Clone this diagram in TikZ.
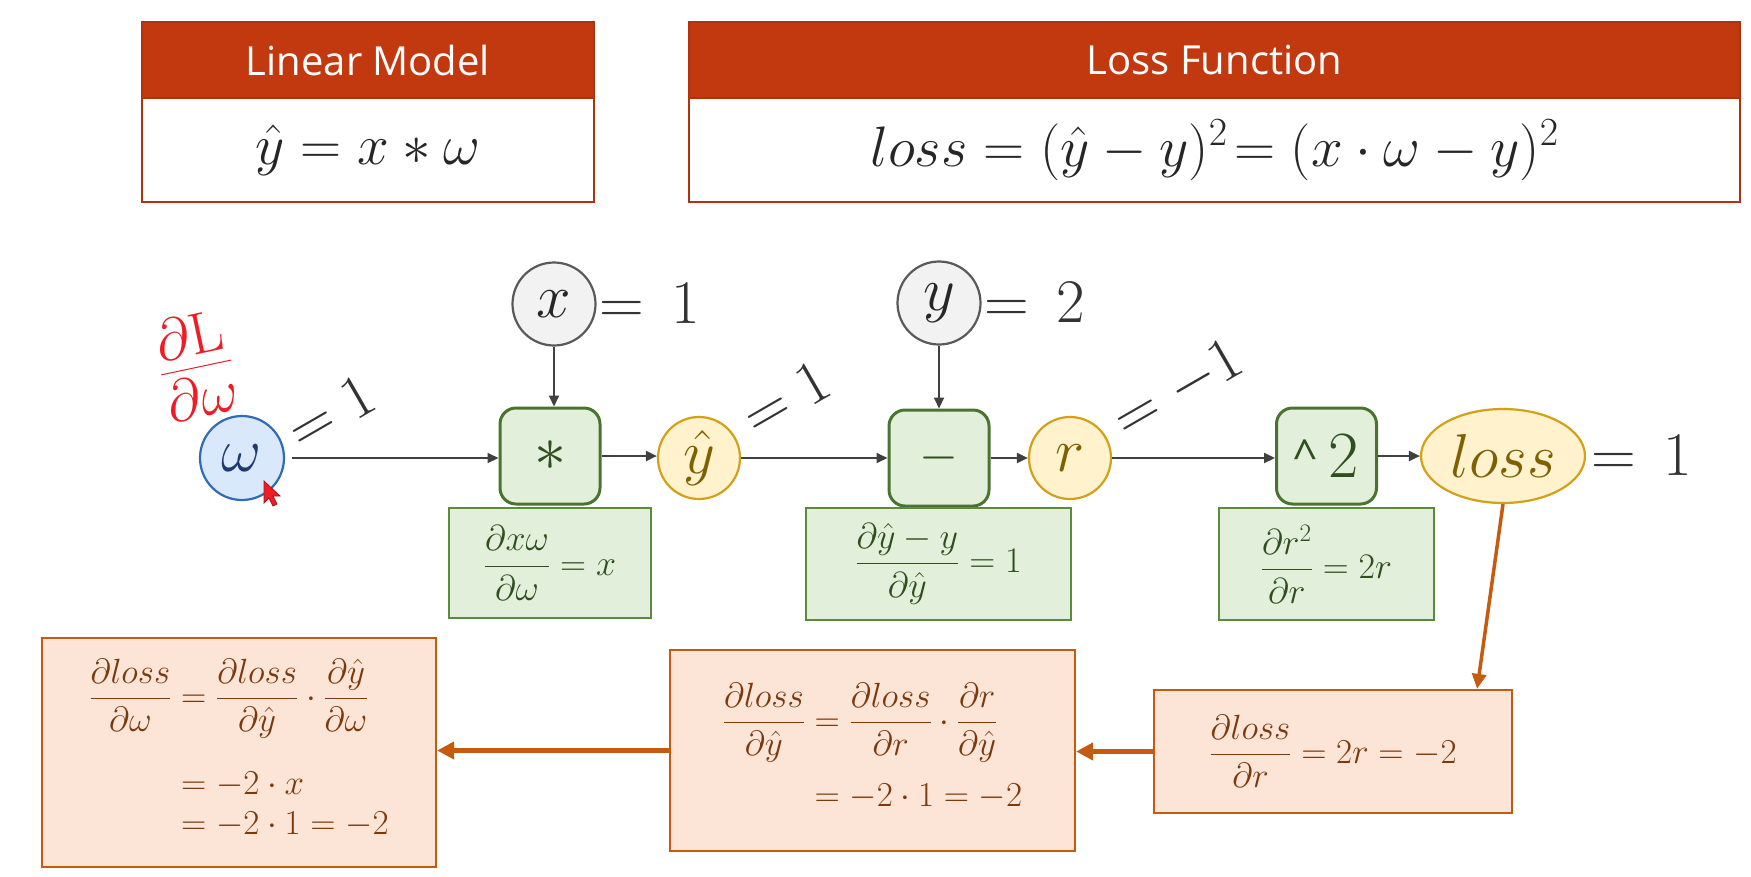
\RequirePackage{fix-cm}
\documentclass[tikz,border=0pt]{standalone}
\usepackage{amsmath}
\usepackage{fontspec}
\newfontfamily\hdrfont{Open Sans}
\usetikzlibrary{shapes.geometric,arrows.meta,calc}
\newcommand\setfs[1]{\fontsize{#1}{#1}\selectfont}
\definecolor{hdrred}{HTML}{C3390F}
\definecolor{hdrborder}{HTML}{B0330E}
\definecolor{lineg}{HTML}{404040}
\definecolor{greyfill}{HTML}{F2F2F2}
\definecolor{greyline}{HTML}{595959}
\definecolor{bluefill}{HTML}{DAE8FC}
\definecolor{blueline}{HTML}{2E6CB5}
\definecolor{bluetext}{HTML}{1F3B6E}
\definecolor{yelfill}{HTML}{FFF2CC}
\definecolor{yelline}{HTML}{D4A017}
\definecolor{yeltext}{HTML}{7F6000}
\definecolor{grnfill}{HTML}{E2EFDA}
\definecolor{grnline}{HTML}{4A7330}
\definecolor{grnline2}{HTML}{5B8C3E}
\definecolor{grntext}{HTML}{2F4F1F}
\definecolor{orgfill}{HTML}{FCE4D6}
\definecolor{orgline}{HTML}{C55A11}
\definecolor{orgtext}{HTML}{7B3A0E}
\definecolor{lbltext}{HTML}{333333}
\definecolor{annred}{HTML}{EE1C25}
\begin{document}
\begin{tikzpicture}[x=1pt,y=-1pt,
  hdrbox/.style={rectangle, fill=hdrred, draw=hdrborder, line width=2.5pt, inner sep=0pt, text=white, font=\hdrfont\setfs{40}},
  hdrbody/.style={rectangle, fill=white, draw=hdrborder, line width=2.5pt, inner sep=0pt, text=black!85},
  inpt/.style={circle, draw=greyline, fill=greyfill, line width=2.2pt, minimum size=83pt, inner sep=0pt, text=black!85, font=\setfs{62}},
  wnode/.style={circle, draw=blueline, fill=bluefill, line width=2.2pt, minimum size=84pt, inner sep=0pt, text=bluetext, font=\setfs{62}},
  ynode/.style={circle, draw=yelline, fill=yelfill, line width=2.2pt, minimum size=82pt, inner sep=0pt, text=yeltext, font=\setfs{62}},
  lossnode/.style={ellipse, draw=yelline, fill=yelfill, line width=2.2pt, minimum width=164pt, minimum height=94pt, inner sep=0pt, text=yeltext, font=\setfs{62}},
  opbox/.style={rectangle, rounded corners=16pt, draw=grnline, fill=grnfill, line width=3pt, minimum width=100pt, minimum height=96pt, inner sep=0pt, text=grntext},
  dbox/.style={rectangle, draw=grnline2, fill=grnfill, line width=2pt, inner sep=0pt, text=grntext, font=\setfs{36}},
  obox/.style={rectangle, draw=orgline, fill=orgfill, line width=2.2pt, inner sep=0pt, text=orgtext},
  lbl/.style={inner sep=0pt, text=lbltext, font=\setfs{62}},
  rlbl/.style={inner sep=0pt, text=lbltext, font=\setfs{62}},
  conn/.style={draw=lineg, line width=2pt, -{Triangle[length=11pt,width=10pt]}},
  back/.style={draw=orgline, line width=4.5pt, -{Triangle[length=17pt,width=17pt]}},
  backthin/.style={draw=orgline, line width=3.5pt, -{Triangle[length=15pt,width=14pt]}}
]
\useasboundingbox (0,0) rectangle (1751,876);
\fill[white] (0,0) rectangle (1751,876);

% top boxes
\node[hdrbody, minimum width=452pt, minimum height=104pt, font=\setfs{57}] (lmb) at (368,150) {$\hat{y}=x\ast\omega$};
\node[hdrbox, minimum width=452pt, minimum height=76pt] (lmh) at (368,60) {Linear Model};
\node[hdrbody, minimum width=1051pt, minimum height=104pt, font=\setfs{57}] (lfb) at (1214.5,150) {$loss=(\hat{y}-y)^2\!=(x\cdot\omega-y)^2$\hspace{30pt}};
\node[hdrbox, minimum width=1051pt, minimum height=76pt] (lfh) at (1214.5,60) {Loss Function};

% graph nodes
\node[wnode] (w) at (242,458) {$\omega$};
\node[inpt] (xin) at (554,304) {$x$};
\node[opbox, font=\setfs{64}] (mul) at (550,456) {$\ast$};
\node[ynode] (yhat) at (699,458) {$\hat{y}$};
\node[opbox, font=\setfs{50}] (minus) at (939,458) {$-$};
\node[inpt] (yin) at (939,303) {$y$};
\node[ynode] (rr) at (1070,458) {$r$};
\node[opbox, font=\setfs{66}] (sq) at (1326.5,456) {\raisebox{6pt}{\hdrfont\fontsize{44}{44}\selectfont\symbol{"5E}}\,2};
\node[lossnode] (loss) at (1503,456) {$loss$};

% labels
\node[lbl, anchor=west] (xl) at (599,304) {$=\,1$};
\node[lbl, anchor=west] (yl) at (984,303) {$=\,2$};
\node[lbl, anchor=west] (ll) at (1591,456) {$=\,1$};
\node[rlbl, rotate=30] (wl) at (331,412) {$=1$};
\node[rlbl, rotate=30] (yhl) at (786,398) {$=1$};
\node[rlbl, rotate=30] (rl) at (1178,390) {$=-1$};

% annotation
\node[text=annred, font=\setfs{84}, rotate=12, inner sep=0pt] (ann) at (196,366) {$\frac{\partial\mathrm{L}}{\partial\omega}$};
\fill[annred, draw=annred!70!black, line width=0.8pt] (264,481) -- (264,503) -- (269,498) -- (273,506) -- (277,504) -- (273,496) -- (280,496) -- cycle;

% derivative boxes
\node[dbox, minimum width=202pt, minimum height=110pt] (d1) at (550,563) {$\dfrac{\partial x\omega}{\partial\omega}=x$};
\node[dbox, minimum width=265pt, minimum height=112pt] (d2) at (938.5,564) {$\dfrac{\partial\hat{y}-y}{\partial\hat{y}}=1$};
\node[dbox, minimum width=215pt, minimum height=112pt] (d3) at (1326.5,564) {$\dfrac{\partial r^2}{\partial r}=2r$};

% connectors
\draw[conn, shorten <=7pt] (w.east) -- (w.east -| mul.west);
\draw[conn] (xin.south) -- (xin.south |- mul.north);
\draw[conn] (mul.east) -- (mul.east -| yhat.west);
\draw[conn] (yhat.east) -- (yhat.east -| minus.west);
\draw[conn] (yin.south) -- (yin.south |- minus.north);
\draw[conn] (minus.east) -- (minus.east -| rr.west);
\draw[conn] (rr.east) -- (rr.east -| sq.west);
\draw[conn] (sq.east) -- (sq.east -| loss.west);

% bottom boxes
\node[obox, minimum width=394pt, minimum height=229pt, font={\fontsize{35}{37}\selectfont}] (ba) at (239,752.5) {$\begin{aligned}\dfrac{\partial loss}{\partial\omega}&=\dfrac{\partial loss}{\partial\hat{y}}\cdot\dfrac{\partial\hat{y}}{\partial\omega}\\[26pt] &=-2\cdot x\\ &=-2\cdot 1=-2\end{aligned}$};
\node[obox, minimum width=405pt, minimum height=201pt, font={\fontsize{35}{37}\selectfont}] (bb) at (872.5,750.5) {$\begin{aligned}\dfrac{\partial loss}{\partial\hat{y}}&=\dfrac{\partial loss}{\partial r}\cdot\dfrac{\partial r}{\partial\hat{y}}\\[14pt] &=-2\cdot 1=-2\end{aligned}$};
\node[obox, minimum width=358pt, minimum height=123pt, font={\fontsize{35}{37}\selectfont}] (bc) at (1333,751.5) {$\dfrac{\partial loss}{\partial r}=2r=-2$};

\coordinate (ctop) at ($(bc.north east)+(-36,0)$);
\draw[backthin] (loss.south) -- (ctop);
\draw[back] (bc.west) -- (bc.west -| bb.east);
\draw[back] (bb.west) -- (bb.west -| ba.east);
\end{tikzpicture}
\end{document}
